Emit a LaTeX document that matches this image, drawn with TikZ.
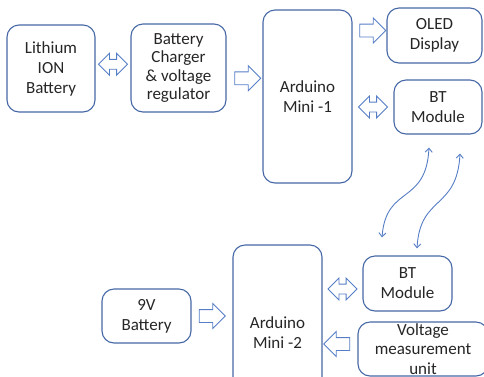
\documentclass[tikz,border=0pt]{standalone}
\usepackage{fontspec}
\setmainfont{Carlito}
\usetikzlibrary{shapes.arrows, arrows.meta, positioning, calc}
\definecolor{boxblue}{RGB}{70,104,166}
\definecolor{arrowblue}{RGB}{86,126,198}
\definecolor{txtgray}{RGB}{38,38,38}

\begin{document}
\begin{tikzpicture}[
  x=1pt, y=-1pt,
  blockbox/.style={rectangle, rounded corners=12pt, draw=boxblue, fill=white, line width=1.1pt, align=center, text=txtgray, font=\fontsize{17}{20}\selectfont, inner sep=0pt},
  onearrow/.style={single arrow, draw=arrowblue, fill=white, line width=0.9pt, inner xsep=0pt, inner ysep=6pt, single arrow head extend=6pt, minimum height=26pt, minimum width=0pt},
  twoarrow/.style={double arrow, draw=arrowblue, fill=white, line width=0.9pt, inner xsep=0pt, inner ysep=4.5pt, double arrow head extend=6pt, minimum height=29pt, minimum width=0pt},
  wave/.style={{Straight Barb[length=4pt, width=7pt]}-{Straight Barb[length=4pt, width=7pt]}, draw=arrowblue, line width=0.9pt}
]
  \useasboundingbox (0,0) rectangle (484,376);
  \clip (0,0) rectangle (484,376);

  \node[blockbox, minimum width=88pt, minimum height=87pt] (lion) at (51,68.5) {Lithium\\ION\\Battery};
  \node[blockbox, minimum width=95pt, minimum height=88pt, font=\fontsize{17}{18.5}\selectfont] (charger) at (178.5,68) {Battery\\Charger\\\& voltage\\regulator};
  \node[blockbox, minimum width=89pt, minimum height=173pt] (ard1) at (307.5,96.5) {Arduino\\Mini -1};
  \node[blockbox, minimum width=95pt, minimum height=55pt] (oled) at (434.5,35.5) {OLED\\Display};
  \node[blockbox, minimum width=88pt, minimum height=54pt] (bt1) at (438,107) {BT\\Module};

  \node[blockbox, minimum width=89pt, minimum height=54pt] (bat9) at (146.5,316) {9V\\Battery};
  \node[blockbox, minimum width=89pt, minimum height=175pt] (ard2) at (277.5,332.5) {Arduino\\Mini -2};
  \node[blockbox, minimum width=89pt, minimum height=55pt] (bt2) at (407.5,283.5) {BT\\Module};
  \node[blockbox, minimum width=130pt, minimum height=54pt, font=\fontsize{17}{19.5}\selectfont] (vmu) at (423,349) {Voltage\\measurement\\unit};

  \node[twoarrow] (a1) at ($(lion.east)!0.5!(charger.west)+(0,-4)$) {};
  \node[onearrow] (a2) at ($(charger.east)!0.5!(ard1.west)+(0,-4)$) {};
  \node[onearrow] (a3) at ($(ard1.east |- oled.west)!0.5!(oled.west)+(0,-5)$) {};
  \node[twoarrow] (a4) at ($(ard1.east |- bt1.west)!0.5!(bt1.west)$) {};
  \node[onearrow] (a5) at ($(bat9.east)!0.5!(ard2.west |- bat9.east)+(-3,0)$) {};
  \node[twoarrow] (a6) at ($(ard2.east |- bt2.west)!0.5!(bt2.west)+(0,5.5)$) {};
  \node[onearrow, shape border rotate=180] (a7) at ($(ard2.east |- vmu.west)!0.5!(vmu.west)+(0,-5)$) {};

  \coordinate (w1top) at ($(bt1.south)+(-9,13)$);
  \coordinate (w2top) at ($(bt1.south)+(22,19)$);
  \coordinate (w1bot) at ($(bt2.north)+(-25.5,-18)$);
  \coordinate (w2bot) at ($(bt2.north)+(9.5,-7)$);

  \draw[wave] (w1bot) .. controls ($(w1bot)+(4,-53)$) and ($(w1top)+(-3,58)$) .. (w1top);
  \draw[wave] (w2bot) .. controls ($(w2bot)+(3,-54)$) and ($(w2top)+(-3,57)$) .. (w2top);

\end{tikzpicture}
\end{document}
